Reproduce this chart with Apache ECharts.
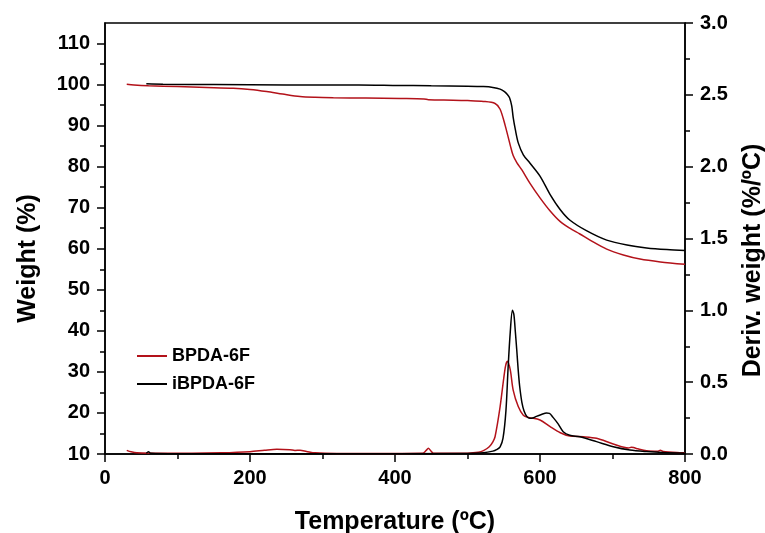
<!DOCTYPE html>
<html>
<head>
<meta charset="utf-8">
<script src="https://cdn.jsdelivr.net/npm/echarts@6/dist/echarts.min.js"></script>
<style>html,body{margin:0;padding:0;background:#fff;overflow:hidden;}#c{width:765px;height:533px;}</style>
</head>
<body>
<div id="c"></div>
<script>
// Series names
const seriesNames = ['BPDA-6F', 'iBPDA-6F'];

// TGA weight curves [Temperature (ºC), Weight (%)]
const weightBPDA = [[30,100.1],[40,99.9],[60,99.7],[100,99.5],[140,99.3],[177,99.1],[200,98.8],[223,98.3],[245,97.7],[269,97.1],[290,96.9],[315,96.8],[360,96.7],[407,96.6],[440,96.5],[446,96.3],[480,96.2],[500,96.1],[522,95.9],[538,95.4],[545,94.0],[552,90.0],[559,85.2],[563,82.7],[568,81.0],[575,79.2],[586,76.0],[600,72.4],[614,69.2],[628,66.6],[641,65.0],[655,63.6],[669,62.1],[692,59.9],[715,58.5],[738,57.5],[766,56.8],[800,56.2]];
const weightIBPDA = [[57,100.2],[80,100.1],[150,100.0],[250,99.9],[350,99.9],[400,99.8],[450,99.7],[500,99.6],[522,99.5],[535,99.3],[545,98.9],[551,98.3],[555,97.6],[558,96.8],[561,94.8],[563,92.0],[566,89.0],[570,85.8],[577,82.9],[586,80.9],[600,77.7],[614,73.2],[628,69.5],[641,67.0],[664,64.4],[692,62.1],[720,60.9],[747,60.2],[775,59.8],[800,59.6]];

// DTG curves [Temperature (ºC), Deriv. weight (%/ºC)]
const derivBPDA = [[30,0.025],[36,0.015],[44,0.008],[80,0.005],[120,0.005],[160,0.008],[200,0.016],[220,0.026],[237,0.033],[255,0.030],[262,0.025],[269,0.026],[278,0.018],[290,0.008],[320,0.004],[400,0.004],[438,0.005],[443,0.025],[446,0.04],[449,0.025],[453,0.005],[500,0.006],[515,0.012],[522,0.023],[530,0.05],[535,0.085],[538,0.12],[545,0.33],[552,0.6],[555,0.645],[559,0.585],[563,0.445],[570,0.33],[577,0.27],[584,0.255],[600,0.237],[614,0.19],[628,0.148],[641,0.125],[660,0.12],[678,0.109],[701,0.07],[722,0.042],[726,0.047],[729,0.045],[735,0.036],[747,0.023],[763,0.02],[766,0.026],[770,0.018],[793,0.009],[800,0.008]];
const derivIBPDA = [[57,0.005],[60,0.015],[63,0.005],[100,0.002],[300,0.002],[500,0.003],[522,0.008],[535,0.02],[540,0.03],[545,0.05],[549,0.11],[553,0.3],[556,0.6],[559,0.85],[562,1.0],[564,0.97],[566,0.85],[568,0.72],[570,0.58],[572,0.47],[575,0.36],[578,0.3],[582,0.26],[586,0.248],[590,0.25],[595,0.262],[602,0.275],[609,0.285],[613,0.283],[618,0.255],[625,0.21],[632,0.155],[641,0.13],[655,0.12],[678,0.086],[701,0.051],[724,0.028],[747,0.017],[770,0.01],[800,0.005]];

// Tick values
const xTicks = {min:0, max:800, interval:200};
const weightMajor = [10,20,30,40,50,60,70,80,90,100,110];
const weightMinor = [15,25,35,45,55,65,75,85,95,105];
const derivTicks = {min:0, max:3, interval:0.5};

const FONT = 'Arial, "Liberation Sans", Helvetica, sans-serif';
const RED = '#b3121a';
const BLACK = '#000000';

const chart = echarts.init(document.getElementById('c'), null, {renderer:'canvas'});
const axisLine = {show:true, lineStyle:{color:'#000', width:1.5}};
const labelStyle = {color:'#000', fontSize:20, fontWeight:'bold', fontFamily:FONT};
const nameStyle = {color:'#000', fontSize:25, fontWeight:'bold', fontFamily:FONT};

chart.setOption({
  animation:false,
  backgroundColor:'#fff',
  grid:{left:105, right:80, top:23, bottom:79, containLabel:false, outerBoundsMode:'none', show:true, borderColor:'#000', borderWidth:1.5, backgroundColor:'transparent'},
  legend:{
    orient:'vertical', left:137, top:346, padding:0, itemWidth:30, itemHeight:2, itemGap:8, icon:'rect',
    textStyle:{color:'#000', fontSize:18, fontWeight:'bold', fontFamily:FONT, lineHeight:20},
    data:seriesNames
  },
  xAxis:{
    type:'value', min:xTicks.min, max:xTicks.max, interval:xTicks.interval,
    name:'Temperature (ºC)', nameLocation:'middle', nameGap:56, nameTextStyle:nameStyle,
    axisLine:axisLine,
    axisTick:{show:true, inside:false, length:8, lineStyle:{color:'#000', width:1.5}},
    minorTick:{show:true, splitNumber:2, length:5, lineStyle:{color:'#000', width:1.5}},
    axisLabel:Object.assign({margin:14}, labelStyle),
    splitLine:{show:false}
  },
  yAxis:[
    {
      type:'value', min:10, max:115, position:'left',
      name:'Weight (%)', nameLocation:'middle', nameGap:64, nameRotate:90,
      nameTextStyle:Object.assign({padding:[0,40,0,0]}, nameStyle),
      axisLine:axisLine,
      axisTick:{show:true, length:8, customValues:weightMajor, lineStyle:{color:'#000', width:1.5}},
      axisLabel:Object.assign({margin:15, customValues:weightMajor}, labelStyle),
      splitLine:{show:false}
    },
    {
      type:'value', min:derivTicks.min, max:derivTicks.max, interval:derivTicks.interval, position:'right',
      name:'Deriv. weight (%/ºC)', nameLocation:'middle', nameGap:56, nameRotate:90,
      nameTextStyle:Object.assign({padding:[0,44,0,0]}, nameStyle),
      axisLine:axisLine,
      axisTick:{show:true, length:8, lineStyle:{color:'#000', width:1.5}},
      minorTick:{show:true, splitNumber:2, length:5, lineStyle:{color:'#000', width:1.5}},
      axisLabel:Object.assign({margin:15, formatter:(v)=>v.toFixed(1)}, labelStyle),
      splitLine:{show:false}
    },
    {
      type:'value', min:10, max:115, position:'left',
      axisLine:{show:false},
      axisTick:{show:true, length:5, customValues:weightMinor, lineStyle:{color:'#000', width:1.5}},
      axisLabel:{show:false},
      splitLine:{show:false}
    }
  ],
  series:[
    {name:seriesNames[0], type:'line', yAxisIndex:0, data:weightBPDA, showSymbol:false, smooth:0.3, color:RED, lineStyle:{color:RED, width:1.5}},
    {name:seriesNames[1], type:'line', yAxisIndex:0, data:weightIBPDA, showSymbol:false, smooth:0.3, color:BLACK, lineStyle:{color:BLACK, width:1.5}},
    {name:seriesNames[0], type:'line', yAxisIndex:1, data:derivBPDA, showSymbol:false, smooth:0.3, color:RED, lineStyle:{color:RED, width:1.5}},
    {name:seriesNames[1], type:'line', yAxisIndex:1, data:derivIBPDA, showSymbol:false, smooth:0.3, color:BLACK, lineStyle:{color:BLACK, width:1.5}}
  ]
});
</script>
</body>
</html>
